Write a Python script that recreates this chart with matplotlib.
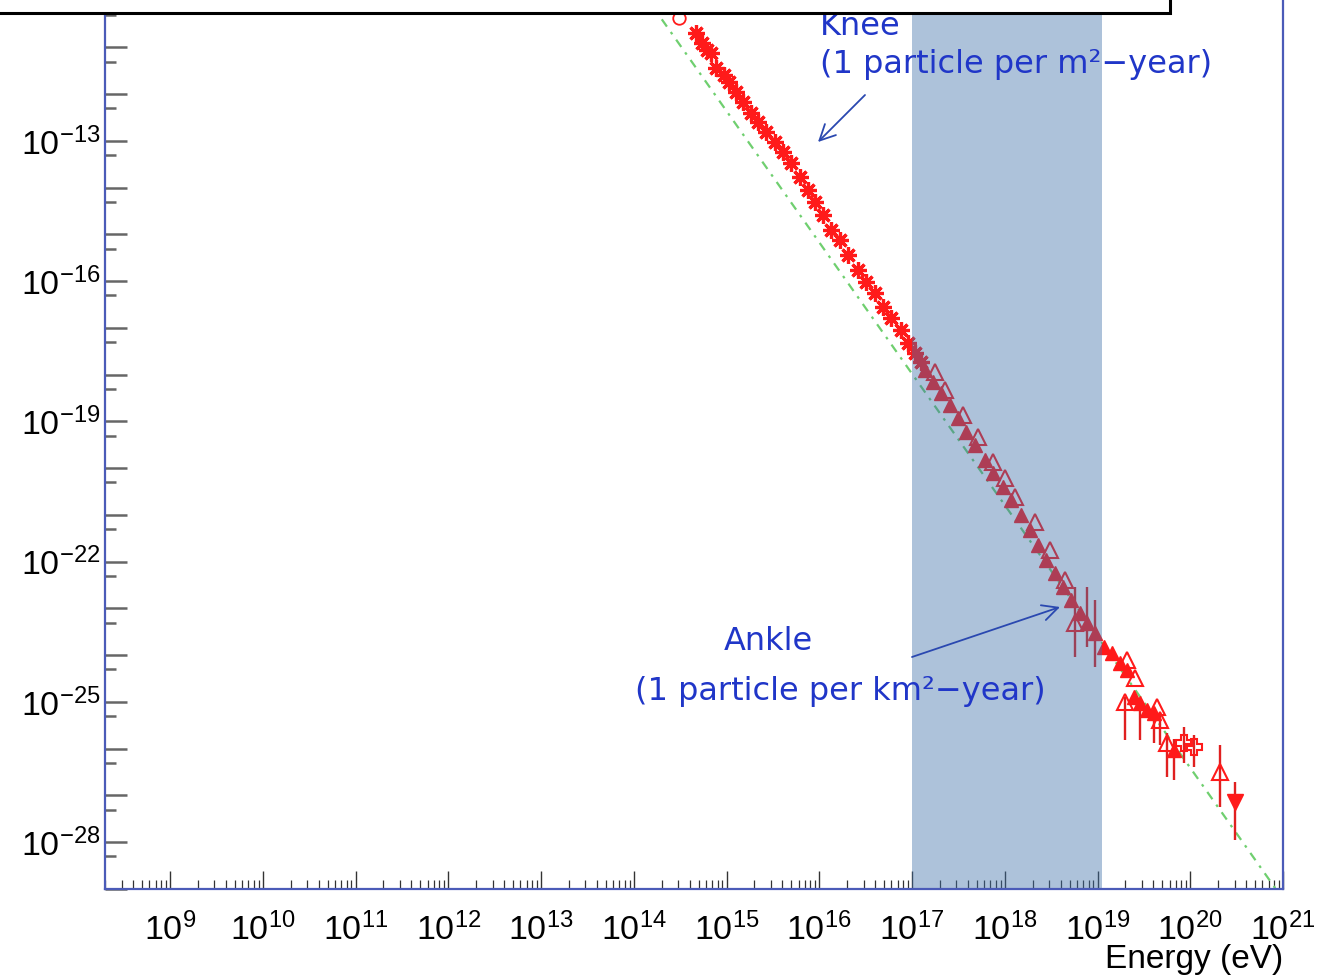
import numpy as np
import matplotlib
matplotlib.use('Agg')
import matplotlib.pyplot as plt
from matplotlib.patches import Rectangle
from matplotlib.ticker import FixedLocator, LogLocator, NullFormatter, FixedFormatter

plt.rcParams['font.family'] = ['Liberation Sans', 'DejaVu Sans']
plt.rcParams['mathtext.fontset'] = 'custom'
plt.rcParams['mathtext.rm'] = 'Liberation Sans'
plt.rcParams['mathtext.it'] = 'Liberation Sans:italic'
plt.rcParams['mathtext.bf'] = 'Liberation Sans:bold'

# ---------------- data (log10 values) ----------------
# asterisk markers (direct measurements below the knee band)
star_logE = [14.667, 14.731, 14.785, 14.828, 14.892, 14.968, 15.022, 15.097, 15.183,
             15.269, 15.344, 15.430, 15.527, 15.613, 15.699, 15.796, 15.882, 15.957,
             16.043, 16.129, 16.226, 16.312, 16.419, 16.505, 16.602, 16.688, 16.774,
             16.882, 16.957, 17.032, 17.097]
star_logF = [-10.690, -10.904, -11.053, -11.118, -11.439, -11.588, -11.738, -11.952, -12.166,
             -12.401, -12.594, -12.807, -13.021, -13.235, -13.471, -13.770, -14.048, -14.305,
             -14.583, -14.904, -15.118, -15.439, -15.759, -16.016, -16.251, -16.551, -16.786,
             -17.043, -17.321, -17.535, -17.727]

# open circle at the top
circ_logE = [14.484]
circ_logF = [-10.369]

# filled triangles
ftri_logE = [17.140, 17.226, 17.312, 17.409, 17.495, 17.581, 17.677, 17.785, 17.871, 17.978,
             18.065, 18.172, 18.269, 18.355, 18.441, 18.538, 18.624, 18.710, 18.806, 18.892,
             18.978, 19.075, 19.161, 19.247, 19.323, 19.398, 19.462, 19.538, 19.613, 19.828]
ftri_logF = [-17.898, -18.155, -18.390, -18.647, -18.925, -19.225, -19.503, -19.824, -20.102, -20.401,
             -20.679, -21.000, -21.321, -21.642, -21.963, -22.241, -22.540, -22.818, -23.096, -23.310,
             -23.524, -23.824, -23.952, -24.166, -24.316, -24.893, -25.021, -25.171, -25.235, -26.027]

# open triangles
otri_logE = [17.247, 17.355, 17.548, 17.710, 17.871, 18.000, 18.108, 18.323, 18.484, 18.645,
             18.753, 19.323, 19.409, 19.301, 19.645, 19.677, 19.753, 20.323]
otri_logF = [-17.941, -18.326, -18.861, -19.332, -19.866, -20.209, -20.615, -21.150, -21.749, -22.390,
             -23.310, -24.102, -24.487, -25.000, -25.107, -25.385, -25.877, -26.497]

# open crosses
ocross_logE = [19.935, 20.043]
ocross_logF = [-25.877, -25.963]

# filled down triangle (highest energy)
dtri_logE = [20.484]
dtri_logF = [-27.139]

# vertical error bars: energy, lower and upper flux
ebar_logE = [18.753, 18.892, 18.978, 19.301, 19.462, 19.613, 19.677, 19.753, 19.828,
             19.935, 20.043, 20.323, 20.484]
ebar_lo = [-24.037, -23.824, -24.251, -25.813, -25.813, -25.877, -25.920, -26.604, -26.668,
           -26.305, -26.390, -27.246, -27.952]
ebar_hi = [-22.540, -22.540, -22.818, -24.900, -25.000, -25.200, -25.300, -25.663, -25.800,
           -25.535, -25.706, -25.920, -26.711]

# green reference power law (end points)
line_logE = [14.0, 21.0]
line_logF = [-9.548, -29.218]

# shaded band (energy range)
band_logE = [17.0, 19.05]

# axis labels
xdecades = list(range(9, 22))
ydecades = list(range(-29, -9))
ylabel_decades = [-28, -25, -22, -19, -16, -13]

# ---------------- figure ----------------
W, H = 1321, 977
fig = plt.figure(figsize=(W / 100, H / 100), dpi=100)
ax = fig.add_axes([105 / W, 1 - 889 / H, (1283 - 105) / W, 889 / H])
ax.set_xscale('log')
ax.set_yscale('log')
ax.set_xlim(10 ** 8.299, 1e21)
ax.set_ylim(1e-29, 10 ** -9.984)

red = '#ff1a1a'
p = lambda a: 10 ** np.asarray(a, dtype=float)

ax.plot(p(line_logE), p(line_logF), color='#6fcf6f', lw=1.6,
        linestyle=(0, (4, 3, 1.2, 3)), zorder=2)

ax.vlines(p(ebar_logE), p(ebar_lo), p(ebar_hi), color='#e02020', lw=1.7, zorder=3)

ax.plot(p(star_logE), p(star_logF), linestyle='none', marker=(8, 2, 0), ms=12, mew=2.3,
        color=red, zorder=4)
ax.plot(p(circ_logE), p(circ_logF), linestyle='none', marker='o', ms=9, mfc='none',
        mec=red, mew=1.3, zorder=4)
ax.plot(p(otri_logE), p(otri_logF), linestyle='none', marker='^', ms=11, mfc='none',
        mec=red, mew=1.5, zorder=4)
ax.plot(p(ftri_logE), p(ftri_logF), linestyle='none', marker='^', ms=10.5, color=red, zorder=4)
ax.plot(p(ocross_logE), p(ocross_logF), linestyle='none', marker='P', ms=12, mfc='none',
        mec=red, mew=1.5, zorder=4)
ax.plot(p(dtri_logE), p(dtri_logF), linestyle='none', marker='v', ms=11, color=red, zorder=4)

ax.axvspan(10 ** band_logE[0], 10 ** band_logE[1], color='#3d6fa8', alpha=0.42,
           lw=0, zorder=5)

# ---------------- axes style ----------------
for s in ['left', 'bottom', 'right']:
    ax.spines[s].set_color('#4b5bb8')
    ax.spines[s].set_linewidth(1.6)
    ax.spines[s].set_zorder(6)
ax.spines['top'].set_visible(False)

ax.xaxis.set_major_locator(FixedLocator(p(xdecades)))
ax.xaxis.set_major_formatter(FixedFormatter([r'$10^{%d}$' % d for d in xdecades]))
ax.xaxis.set_minor_locator(LogLocator(base=10, subs=np.arange(2, 10), numticks=100))
ax.xaxis.set_minor_formatter(NullFormatter())

ax.yaxis.set_major_locator(FixedLocator(p(ydecades)))
ax.yaxis.set_major_formatter(FixedFormatter(
    [(r'$10^{%d}$' % d) if d in ylabel_decades else '' for d in ydecades]))
ax.yaxis.set_minor_locator(FixedLocator(0.5 * p(ydecades)))
ax.yaxis.set_minor_formatter(NullFormatter())

ax.tick_params(axis='x', which='major', direction='in', length=13, width=1.0,
               color='#333333', labelsize=24.5, pad=17, top=False)
ax.tick_params(axis='x', which='minor', direction='in', length=6.5, width=0.9,
               color='#333333', top=False)
ax.tick_params(axis='y', which='major', direction='in', length=16, width=1.8,
               color='#666666', labelsize=24.5, pad=3, right=False)
ax.tick_params(axis='y', which='minor', direction='in', length=8, width=1.8,
               color='#666666', right=False)

# ---------------- annotations ----------------
tcol = '#2036c8'
acol = '#2a48b0'
tfont = dict(family='DejaVu Sans', size=23, color=tcol)

fig.text(820 / W, 1 - 35 / H, 'Knee', ha='left', va='baseline', zorder=8, **tfont)
fig.text(820 / W, 1 - 73 / H, '(1 particle per m\u00b2\u2212year)', ha='left',
         va='baseline', zorder=8, **tfont)
fig.text(768 / W, 1 - 650 / H, 'Ankle', ha='center', va='baseline', zorder=8, **tfont)
fig.text(840 / W, 1 - 700 / H, '(1 particle per km\u00b2\u2212year)', ha='center',
         va='baseline', zorder=8, **tfont)

ax.annotate('', xy=(818 / W, 1 - 142 / H), xytext=(865 / W, 1 - 95 / H),
            xycoords='figure fraction', textcoords='figure fraction',
            arrowprops=dict(arrowstyle='->', color=acol, lw=1.3, mutation_scale=28,
                            shrinkA=0, shrinkB=0), zorder=8)
ax.annotate('', xy=(1060 / W, 1 - 607 / H), xytext=(912 / W, 1 - 657 / H),
            xycoords='figure fraction', textcoords='figure fraction',
            arrowprops=dict(arrowstyle='->', color=acol, lw=1.3, mutation_scale=28,
                            shrinkA=0, shrinkB=0), zorder=8)

fig.text(1283 / W, 1 - 968 / H, 'Energy (eV)', ha='right', va='baseline', size=24)

# top box (cropped title/legend frame)
fig.add_artist(Rectangle((-0.01, 1 - 13 / H), 1170 / W + 0.01, 0.05,
                         transform=fig.transFigure, fc='white', ec='black', lw=2.2,
                         zorder=20, clip_on=False))

fig.savefig('out.png', dpi=100)
